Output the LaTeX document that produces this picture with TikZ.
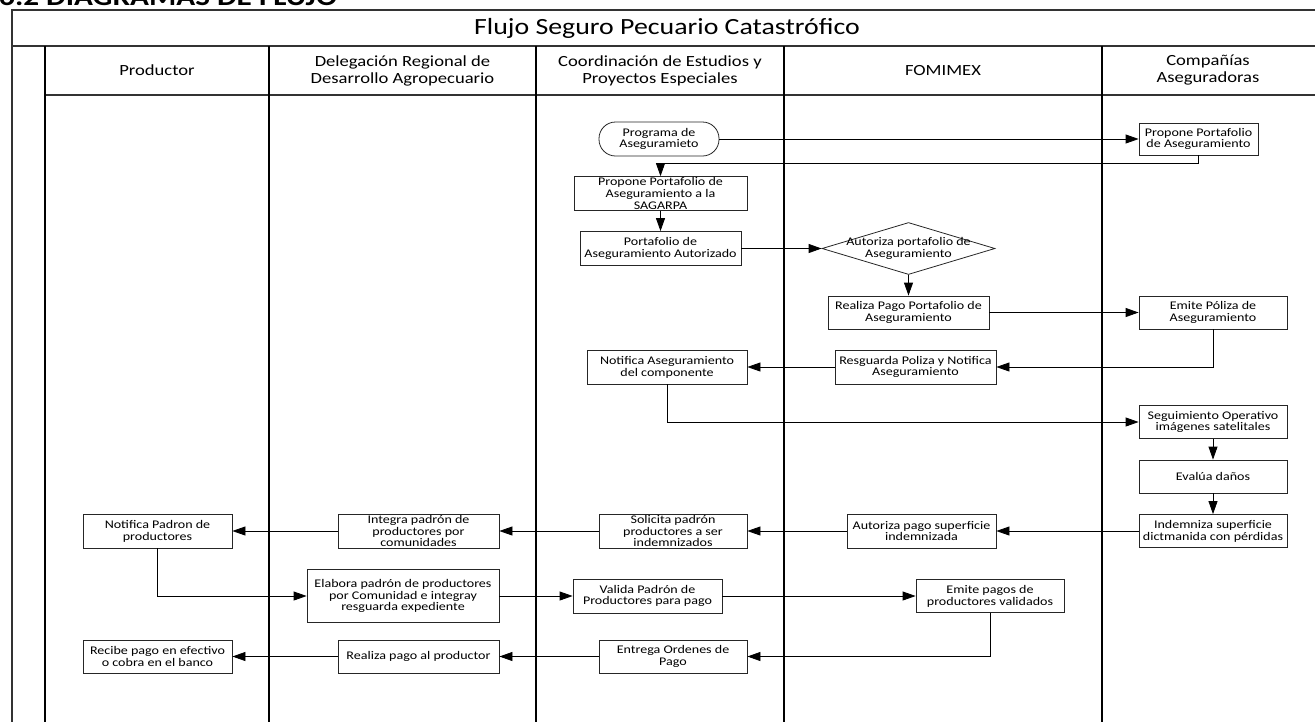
\documentclass[tikz,border=0pt]{standalone}
\usepackage{fontspec}
\setmainfont{Carlito}[FakeStretch=1.2]
\usetikzlibrary{arrows.meta,positioning,shapes.geometric}
\tikzset{
    frame line/.style={line width=1.1pt, black!80},
    lane line/.style={line width=1.6pt, black},
    heading/.style={font=\fontsize{26}{30}\selectfont\bfseries, inner sep=0pt},
    flow title/.style={font=\fontsize{23.2}{27}\selectfont},
    lane title/.style={align=center, font=\fontsize{15.5}{17}\selectfont},
    box text/.style={align=center, font=\fontsize{11.7}{11.8}\selectfont},
    box/.style={box text, draw=black!85, line width=0.8pt, fill=white, inner xsep=2pt, inner ysep=1pt, minimum height=34pt},
    terminal/.style={box, rounded corners=16.5pt},
    decision/.style={draw=black!85, line width=0.8pt, fill=white, diamond, inner sep=0pt},
    arr/.style={-{Triangle[length=13pt,width=9pt]}, line width=0.8pt},
}

\begin{document}
\begin{tikzpicture}[x=1pt,y=-1pt]
        \useasboundingbox (0,0) rectangle (1315,721);
        \node[heading, anchor=base west] (sectitle) at (-1,5.5) {6.2 DIAGRAMAS DE FLUJO};

        \draw[frame line] (12,725) -- (12,10) -- (1320,10);
        \draw[frame line] (12,46) -- (1320,46);
        \draw[frame line] (45,95) -- (1320,95);
        \foreach \x in {45,269,536,784,1102}
            \draw[lane line] (\x,46) -- (\x,725);

        \node[flow title] (flowtitle) at (667,28) {Flujo Seguro Pecuario Catastrófico};
        \node[lane title] (hprod) at (157,70.5) {Productor};
        \node[lane title] (hdeleg) at (402.5,70.5) {Delegación Regional de\\Desarrollo Agropecuario};
        \node[lane title] (hcoord) at (660,70.5) {Coordinación de Estudios y\\Proyectos Especiales};
        \node[lane title] (hfomi) at (943,70.5) {FOMIMEX};
        \node[lane title] (hcias) at (1208,70.5) {Compañías\\Aseguradoras};

        \node[terminal, minimum width=120pt] (prog) at (659,139) {Programa de\\Aseguramieto};
        \node[box, minimum width=119pt, minimum height=32pt] (propcia) at (1198.5,139) {Propone Portafolio\\de Aseguramiento};
        \node[box, minimum width=173pt, minimum height=33pt] (propsag) at (660.5,193.5) {Propone Portafolio de\\Aseguramiento a la\\SAGARPA};
        \node[box, minimum width=161pt] (portaut) at (660.5,248.5) {Portafolio de\\Aseguramiento Autorizado};
        \node[decision, minimum width=173pt, minimum height=52pt,
            label={[box text]center:{Autoriza portafolio de\\Aseguramiento}}] (autdiam) at (908.5,248.5) {};
        \node[box, minimum width=161pt, minimum height=33pt] (realiza) at (908.5,312.5) {Realiza Pago Portafolio de\\Aseguramiento};
        \node[box, minimum width=148pt, minimum height=33pt] (emite) at (1213,312.5) {Emite Póliza de\\Aseguramiento};
        \node[box, minimum width=161pt] (resguarda) at (915.5,367) {Resguarda Poliza y Notifica\\Aseguramiento};
        \node[box, minimum width=160pt] (notaseg) at (667,367) {Notifica Aseguramiento\\del componente};
        \node[box, minimum width=148pt, minimum height=33pt] (seguim) at (1213,422) {Seguimiento Operativo\\imágenes satelitales};
        \node[box, minimum width=148pt, minimum height=33pt] (evalua) at (1213,476.5) {Evalúa daños};
        \node[box, minimum width=148pt, minimum height=33pt] (indem) at (1213,531) {Indemniza superficie\\dictmanida con pérdidas};

        \node[box, minimum width=149pt] (autpago) at (921.5,531) {Autoriza pago superficie\\indemnizada};
        \node[box, minimum width=148pt] (solic) at (673,531) {Solicita padrón\\productores a ser\\indemnizados};
        \node[box, minimum width=161pt] (integra) at (418.5,531) {Integra padrón de\\productores por\\comunidades};
        \node[box, minimum width=149pt] (notpad) at (157.5,531) {Notifica Padron de\\productores};
        \node[box, minimum width=192pt, minimum height=53pt] (elabora) at (403,596) {Elabora padrón de productores\\por Comunidad e integray\\resguarda expediente};
        \node[box, minimum width=149pt] (valida) at (647.5,596) {Valida Padrón de\\Productores para pago};
        \node[box, minimum width=148pt, minimum height=33pt] (emitepag) at (990,596) {Emite pagos de\\productores validados};
        \node[box, minimum width=148pt, minimum height=33pt] (entrega) at (673,656.5) {Entrega Ordenes de\\Pago};
        \node[box, minimum width=161pt, minimum height=33pt] (realpago) at (418.5,656.5) {Realiza pago al productor};
        \node[box, minimum width=149pt, minimum height=33pt] (recibe) at (157.5,656.5) {Recibe pago en efectivo\\o cobra en el banco};

        \draw[arr] (prog) -- (propcia);
        \draw[arr] (propcia.south) -- ++(0,8) -| (propsag.north);
        \draw[arr] (propsag) -- (portaut);
        \draw[arr] (portaut) -- (autdiam);
        \draw[arr] (autdiam) -- (realiza);
        \draw[arr] (realiza) -- (emite);
        \draw[arr] (emite.south) |- (resguarda.east);
        \draw[arr] (resguarda) -- (notaseg);
        \draw[arr] (notaseg.south) |- (seguim.west);
        \draw[arr] (seguim) -- (evalua);
        \draw[arr] (evalua) -- (indem);
        \draw[arr] (indem) -- (autpago);
        \draw[arr] (autpago) -- (solic);
        \draw[arr] (solic) -- (integra);
        \draw[arr] (integra) -- (notpad);
        \draw[arr] (notpad.south) |- (elabora.west);
        \draw[arr] (elabora) -- (valida);
        \draw[arr] (valida) -- (emitepag);
        \draw[arr] (emitepag.south) |- (entrega.east);
        \draw[arr] (entrega) -- (realpago);
        \draw[arr] (realpago) -- (recibe);
    \end{tikzpicture}
\end{document}
